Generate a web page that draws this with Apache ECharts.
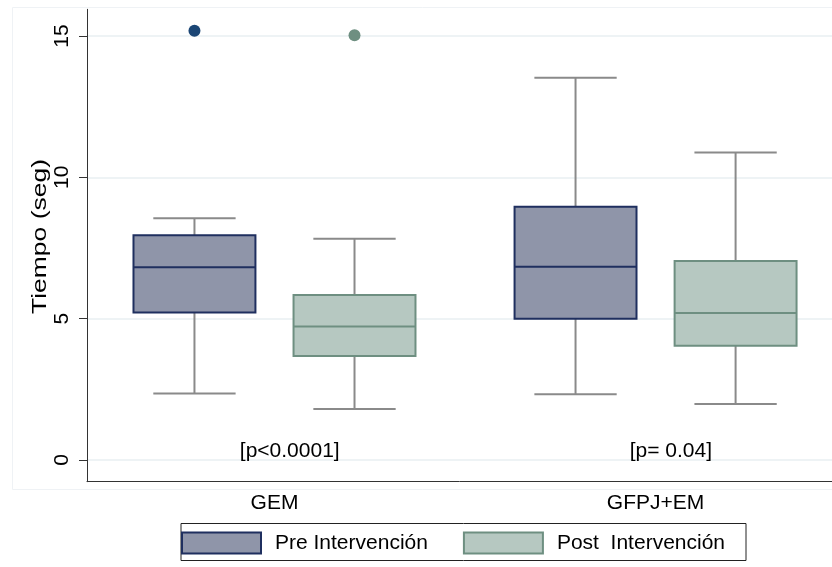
<!DOCTYPE html>
<html><head><meta charset="utf-8">
<script src="https://cdn.jsdelivr.net/npm/echarts@6/dist/echarts.min.js"></script>
<style>html,body{margin:0;padding:0;background:#fff}#c{width:832px;height:567px}</style>
</head><body><div id="c"></div>
<script>
// ---- data ----
const categories = ['GEM', 'GFPJ+EM'];
const seriesNames = ['Pre Intervención', 'Post  Intervención'];
// each box: [lower whisker, Q1, median, Q3, upper whisker]
const preBoxes  = [[2.35, 5.22, 6.82, 7.95, 8.55], [2.33, 5.00, 6.84, 8.96, 13.52]];
const postBoxes = [[1.80, 3.68, 4.72, 5.84, 7.83], [1.98, 4.04, 5.20, 7.04, 10.88]];
// outliers: [category index, value]
const preOutliers  = [[0, 15.19]];
const postOutliers = [[0, 15.03]];
const pValueLabels = ['[p<0.0001]', '[p= 0.04]'];
const pValueHeight = 0.32;
const yTicks = [0, 5, 10, 15];
const yTitle = 'Tiempo (seg)';

// ---- styling / layout ----
const FONT = '"Liberation Sans", Arial, Helvetica, sans-serif';
const PRE = {fill: '#8f95a9', stroke: '#1f2f5f', dot: '#1b4675'};
const POST = {fill: '#b6c8c1', stroke: '#6e8f81', dot: '#6e8f81'};
const WHISK = '#8a8a8a';
const OFFSET = 0.21, HALF = 0.16, CAP = 0.108;

function boxSeries(name, boxes, offset, c) {
  return {
    name: name, type: 'custom',
    itemStyle: {color: c.fill, borderColor: c.stroke, borderWidth: 2},
    encode: {x: 0, y: [1, 2, 3, 4, 5]},
    data: boxes.map((b, i) => [i + 1].concat(b)),
    renderItem: function (params, api) {
      const x = api.value(0) + offset;
      const P = (dx, v) => api.coord([x + dx, v]);
      const lo = api.value(1), q1 = api.value(2), md = api.value(3), q3 = api.value(4), hi = api.value(5);
      const ls = {stroke: WHISK, lineWidth: 2};
      const a = P(-HALF, q3), b = P(HALF, q1);
      const line = (p1, p2, st) => ({type: 'line', shape: {x1: p1[0], y1: p1[1], x2: p2[0], y2: p2[1]}, style: st});
      return {type: 'group', children: [
        line(P(0, q3), P(0, hi), ls),
        line(P(0, lo), P(0, q1), ls),
        line(P(-CAP, hi), P(CAP, hi), ls),
        line(P(-CAP, lo), P(CAP, lo), ls),
        {type: 'rect', shape: {x: a[0], y: a[1], width: b[0] - a[0], height: b[1] - a[1]},
         style: {fill: c.fill, stroke: c.stroke, lineWidth: 2}},
        line(P(-HALF, md), P(HALF, md), {stroke: c.stroke, lineWidth: 2})
      ]};
    }
  };
}

function outlierSeries(name, pts, offset, c) {
  return {name: name, type: 'scatter', symbolSize: 12, itemStyle: {color: c.dot, opacity: 1},
    data: pts.map(p => [p[0] + 1 + offset, p[1]])};
}

const chart = echarts.init(document.getElementById('c'), null, {renderer: 'canvas'});
chart.setOption({
  animation: false,
  textStyle: {fontFamily: FONT},
  graphic: [
    {type: 'rect', shape: {x: 12.5, y: 7.5, width: 840, height: 482}, style: {fill: 'none', stroke: '#eff2f5', lineWidth: 1}, z: -10},
    {type: 'text', x: 40, y: 236.5, rotation: Math.PI / 2, scaleX: 1.26,
     style: {text: yTitle, font: '21px ' + FONT, fill: '#000', align: 'center', verticalAlign: 'middle'}}
  ],
  grid: {left: 87, right: 0, top: 9.3, bottom: 85.3},
  xAxis: {
    type: 'value', min: 0.508, max: 2.463,
    axisLine: {onZero: false, lineStyle: {color: '#333', width: 1}},
    axisTick: {show: false},
    splitLine: {show: false},
    axisLabel: {customValues: [1, 2], formatter: v => categories[Math.round(v) - 1] || '',
      fontSize: 21, color: '#000', fontFamily: FONT, margin: 11}
  },
  yAxis: {
    type: 'value', min: -0.768, max: 15.945,
    axisLine: {show: true, onZero: false, lineStyle: {color: '#333', width: 1}},
    axisTick: {show: true, customValues: yTicks, length: 8, lineStyle: {color: '#333'}},
    axisLabel: {customValues: yTicks, rotate: 90, fontSize: 21, color: '#000', fontFamily: FONT, margin: 14},
    splitLine: {show: true, lineStyle: {color: '#e8eff2', width: 1.5}}
  },
  legend: {
    data: seriesNames, left: 181, top: 523.5, orient: 'horizontal',
    itemWidth: 79, itemHeight: 21, itemGap: 35,
    padding: [8, 21, 6, 0],
    borderColor: '#222', borderWidth: 1, selectedMode: false,
    icon: 'rect',
    textStyle: {fontSize: 21, color: '#000', fontFamily: FONT, padding: [0, 0, 0, 9]}
  },
  series: [
    boxSeries(seriesNames[0], preBoxes, -OFFSET, PRE),
    boxSeries(seriesNames[1], postBoxes, OFFSET, POST),
    outlierSeries('pre-out', preOutliers, -OFFSET, PRE),
    outlierSeries('post-out', postOutliers, OFFSET, POST),
    {
      name: 'pvals', type: 'custom',
      data: pValueLabels.map((t, i) => [i + 1 + 0.04, pValueHeight]),
      renderItem: function (params, api) {
        const p = api.coord([api.value(0), api.value(1)]);
        return {type: 'text', x: p[0], y: p[1], style: {text: pValueLabels[params.dataIndex],
          font: '21px ' + FONT, fill: '#000', align: 'center', verticalAlign: 'middle'}};
      }
    }
  ]
});
</script></body></html>
